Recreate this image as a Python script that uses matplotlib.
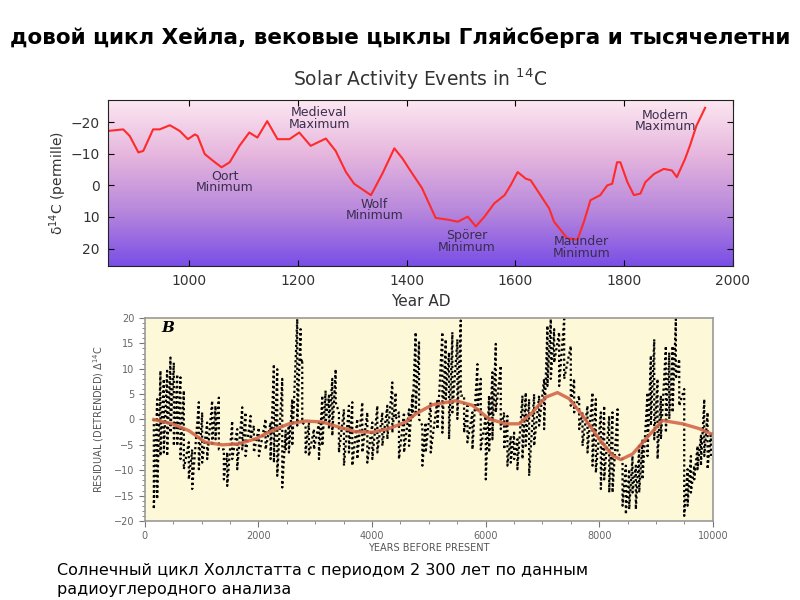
import matplotlib.pyplot as plt
import numpy as np
from matplotlib.colors import LinearSegmentedColormap
from matplotlib.ticker import MultipleLocator

# --- top chart: solar activity in 14C (values in permille, axis inverted) ---
years_ad = [850, 878, 890, 906, 915, 933, 945, 964, 982, 997, 1010, 1015, 1028, 1043,
            1059, 1074, 1092, 1110, 1125, 1143, 1162, 1184, 1202, 1223, 1251, 1269,
            1288, 1303, 1334, 1355, 1377, 1392, 1404, 1428, 1453, 1477, 1494, 1512,
            1527, 1543, 1561, 1580, 1591, 1604, 1619, 1628, 1646, 1662, 1671, 1695,
            1714, 1726, 1738, 1756, 1769, 1778, 1787, 1793, 1806, 1818, 1830, 1839,
            1855, 1873, 1888, 1897, 1912, 1921, 1933, 1949]
d14c = [-17.2, -17.7, -15.6, -10.4, -10.9, -17.7, -17.7, -19.0, -17.2, -14.6, -16.1,
        -15.6, -9.9, -7.8, -5.7, -7.3, -12.5, -16.7, -15.1, -20.3, -14.6, -14.6, -16.7,
        -12.5, -14.8, -10.9, -4.2, -0.5, 3.1, -3.7, -11.7, -8.5, -5.3, 0.9, 10.3, 10.9,
        11.5, 9.9, 13.0, 9.9, 5.7, 3.1, 0.0, -4.2, -2.1, -1.6, 3.1, 7.3, 11.5, 16.7,
        17.2, 11.5, 4.7, 3.1, 0.0, -0.5, -7.3, -7.3, -1.0, 3.1, 2.6, -1.0, -3.6, -5.2,
        -4.7, -2.6, -8.3, -12.5, -18.8, -24.5]

event_names = ["Medieval\nMaximum", "Oort\nMinimum", "Wolf\nMinimum",
               "Spörer\nMinimum", "Maunder\nMinimum", "Modern\nMaximum"]
event_x = [1239, 1065, 1340, 1510, 1721, 1876]
event_y = [-21.2, -1.0, 7.8, 17.8, 19.7, -20.3]

# --- bottom chart: residual 14C, columns of fast oscillation (top / bottom) ---
col_years = [159, 217, 276, 335, 393, 452, 511, 570, 628, 687, 775, 834, 951, 1010,
             1098, 1186, 1245, 1304, 1392, 1451, 1539, 1627, 1715, 1774, 1862, 1921,
             2009, 2126, 2214, 2273, 2332, 2420, 2479,
             2537, 2596, 2684, 2743, 2772, 2831, 2890, 2978, 3066, 3125, 3183, 3242,
             3301, 3360, 3418, 3506, 3594, 3653, 3741, 3829, 3918, 4006, 4094, 4182,
             4270, 4358, 4417, 4475, 4564, 4652, 4710, 4769, 4828, 4887, 4945, 5034,
             5151, 5239, 5298, 5356, 5415, 5503, 5562, 5621, 5680, 5768, 5856, 5915,
             6003, 6061, 6120, 6179, 6267, 6326, 6384, 6443, 6502, 6560, 6649, 6707,
             6766, 6854, 6942, 7030, 7089, 7148, 7207, 7295, 7383,
             7500, 7559, 7647, 7706, 7794, 7882, 7941, 8029, 8088, 8176, 8234, 8323,
             8411, 8469, 8528, 8587, 8645, 8704, 8763, 8851, 8910, 8969, 9027, 9086,
             9174, 9233, 9292, 9350, 9409, 9497, 9556, 9615, 9674, 9732, 9791, 9850,
             9908, 9967]
col_high = [0.1, 4.0, 9.6, 8.0, 9.6, 12.2, 11.2, 8.9, 8.3, 5.7, -4.5, -5.9, 3.4, 1.4,
            -0.6, 3.7, 2.7, 4.3, -5.9, -6.5, -0.3, -1.9, 2.4, 1.4, 0.7, -1.2,
            -1.6, 0.1, -0.6, 10.9, 9.9, 8.0, -2.2,
            -1.2, 4.0, 19.8, 17.8, 11.9, -1.2, -0.6, -1.9, -0.6, 4.7, 5.7, 4.7,
            8.0, 9.9, 1.4, 2.0, 2.7, 3.4, 0.1, 3.4, 1.4, -0.6, 2.7, 1.4,
            2.7, 7.3, 5.3, 1.4, 1.4, 2.0, 4.7, 17.2, 15.2, -1.2, -0.6, 3.4,
            4.0, 17.2, 15.8, 13.2, 17.2, 15.8, 19.5, 4.7, 2.7, 1.4, 10.9, 8.0,
            0.7, 4.7, 9.3, 14.9, 10.6, 1.4, 0.7, -3.2, -2.6, -3.9, 4.7, 5.3,
            4.0, 5.0, 4.7, 8.0, 18.5, 19.8, 17.8, 17.2, 19.8,
            14.5, 8.0, 4.7, 1.4, 2.7, 5.3, 4.0, 1.4, 2.7, 0.7, 1.4, 2.0,
            -7.8, -9.1, -9.8, -7.2, -9.1, -5.2, -3.9, 5.3, 12.6, 15.8, 8.0, 4.7,
            14.5, 13.2, 14.5, 19.8, 11.9, 6.0, -9.8, -7.2, -9.1, -5.2, -3.2, 4.0,
            1.4, -2.6]
col_low = [-17.7, -15.7, -7.2, -6.5, -7.2, -2.6, -5.2, -5.2, -7.8, -9.8, -11.8, -13.7,
           -9.8, -8.5, -7.8, -5.2, -3.9, -5.9, -11.8, -13.1, -7.8, -9.8, -5.9, -7.2,
           -3.9, -6.5, -7.2, -5.9, -7.8, -8.5, -11.1, -13.4, -5.9,
           -6.5, -5.2, -1.2, 11.2, -0.6, -6.5, -7.2, -5.9, -7.8, -5.2, -0.6, -1.9,
           -3.2, 3.4, -6.5, -9.1, -6.5, -9.1, -7.8, -6.5, -8.5, -7.8, -6.5, -5.2,
           -3.9, -2.6, 0.1, -7.8, -6.5, -5.2, 0.1, 1.4, 0.1, -9.1, -6.5, -6.5,
           -1.9, -2.6, 4.0, -3.9, 1.4, 0.1, 4.7, -2.6, -4.5, -5.9, 1.4, -5.9,
           -11.8, -6.5, -3.9, 1.4, -1.9, -5.9, -9.1, -8.5, -7.8, -9.8, -7.8, -5.2,
           -11.1, -5.2, -1.2, -1.9, 6.6, 8.0, 11.2, 6.6, 8.0,
           2.7, 1.4, -1.9, -5.2, -6.5, -9.1, -10.5, -13.7, -11.8, -14.4, -14.4, -6.5,
           -17.0, -18.7, -17.7, -14.4, -17.7, -14.4, -11.8, -7.2, -1.2, -3.9, -7.8, -3.9,
           -2.6, 0.1, 1.4, 8.0, 2.7, -19.0, -17.0, -14.4, -11.8, -9.8, -9.1, -7.2,
           -9.8, -7.8]

smooth_years = [159, 481, 775, 1069, 1362, 1656, 1950, 2243, 2537, 2831, 3124, 3418,
                3712, 4005, 4299, 4593, 4769, 5063, 5474, 5767, 6061, 6355, 6590, 6825,
                7060, 7265, 7471, 7706, 8000, 8234, 8381, 8587, 8822, 9115, 9467, 9761,
                9967]
smooth_vals = [0.0, -0.85, -2.2, -4.5, -5.0, -4.8, -3.8, -2.2, -0.85, -0.3, -0.5, -1.5,
               -2.4, -2.5, -1.8, -0.5, 1.1, 2.9, 3.7, 2.8, 0.1, -0.85, -0.85, 1.4,
               4.4, 5.3, 4.1, 0.8, -3.8, -7.1, -7.9, -6.8, -3.8, -0.2, -0.85, -1.8,
               -2.8]

fig = plt.figure(figsize=(8, 6), dpi=100)
fig.patch.set_facecolor('white')

fig.text(0.5, 0.938, "довой цикл Хейла, вековые цыклы Гляйсберга и тысячелетни",
         ha='center', va='center', fontsize=15.5, fontweight='bold', color='black')

# ---------------- top chart ----------------
ax1 = fig.add_axes([0.135, 0.5567, 0.781, 0.2767])
grad = LinearSegmentedColormap.from_list(
    'solar', ['#fde8f1', '#e6b6de', '#b888dc', '#7a4ee6'])
ax1.imshow(np.linspace(0, 1, 256).reshape(-1, 1), cmap=grad, aspect='auto',
           extent=[850, 2000, 25.5, -27], zorder=0)
ax1.plot(years_ad, d14c, color='#ff2a2a', lw=1.5, zorder=2)
for name, ex, ey in zip(event_names, event_x, event_y):
    ax1.text(ex, ey, name, ha='center', va='center', fontsize=9,
             color='#3a2d4e', linespacing=0.85, zorder=3)
ax1.set_xlim(850, 2000)
ax1.set_ylim(25.5, -27)
ax1.set_xticks([1000, 1200, 1400, 1600, 1800, 2000])
ax1.set_yticks([-20, -10, 0, 10, 20])
ax1.tick_params(direction='in', length=4, top=True, right=True, labelsize=10,
                labelcolor='#333333', pad=6)
for s in ax1.spines.values():
    s.set_color('#222222')
ax1.set_title("Solar Activity Events in $^{14}$C", fontsize=13.5, color='#333333', pad=10)
ax1.set_xlabel("Year AD", fontsize=11, color='#333333', labelpad=4)
ax1.set_ylabel("δ$^{14}$C (permille)", fontsize=10, color='#333333', labelpad=1)

# ---------------- bottom chart ----------------
ax2 = fig.add_axes([0.181, 0.1317, 0.71, 0.3383])
ax2.set_facecolor('#fcf8d8')
zig_x, zig_y = [], []
for yr, hi, lo in zip(col_years, col_high, col_low):
    zig_x += [yr, yr]
    zig_y += [hi, lo]
ax2.plot(zig_x, zig_y, color='black', lw=1.6, linestyle=(0, (1, 1.3)), zorder=2)
ax2.plot(smooth_years, smooth_vals, color='#d2674a', lw=2.4, alpha=0.9, zorder=3)
ax2.text(300, 18, "B", fontsize=11, fontweight='bold', style='italic',
         family='serif', va='center')
ax2.set_xlim(0, 10000)
ax2.set_ylim(-20, 20)
ax2.xaxis.set_major_locator(MultipleLocator(2000))
ax2.xaxis.set_minor_locator(MultipleLocator(500))
ax2.yaxis.set_major_locator(MultipleLocator(5))
ax2.yaxis.set_minor_locator(MultipleLocator(1))
ax2.tick_params(which='both', direction='out', colors='#777777', labelsize=7,
                labelcolor='#666666')
ax2.tick_params(which='major', length=4)
ax2.tick_params(which='minor', length=2)
for s in ax2.spines.values():
    s.set_color('#999999')
    s.set_linewidth(1.2)
ax2.set_xlabel("YEARS BEFORE PRESENT", fontsize=7, color='#555555', labelpad=1)
ax2.set_ylabel("RESIDUAL (DETRENDED) Δ$^{14}$C", fontsize=7, color='#555555', labelpad=6)

fig.text(0.071, 0.033, "Солнечный цикл Холлстатта с периодом 2 300 лет по данным\n"
         "радиоуглеродного анализа", ha='left', va='center', fontsize=11.5,
         color='black', linespacing=1.3)

fig.savefig('out.png', dpi=100)
